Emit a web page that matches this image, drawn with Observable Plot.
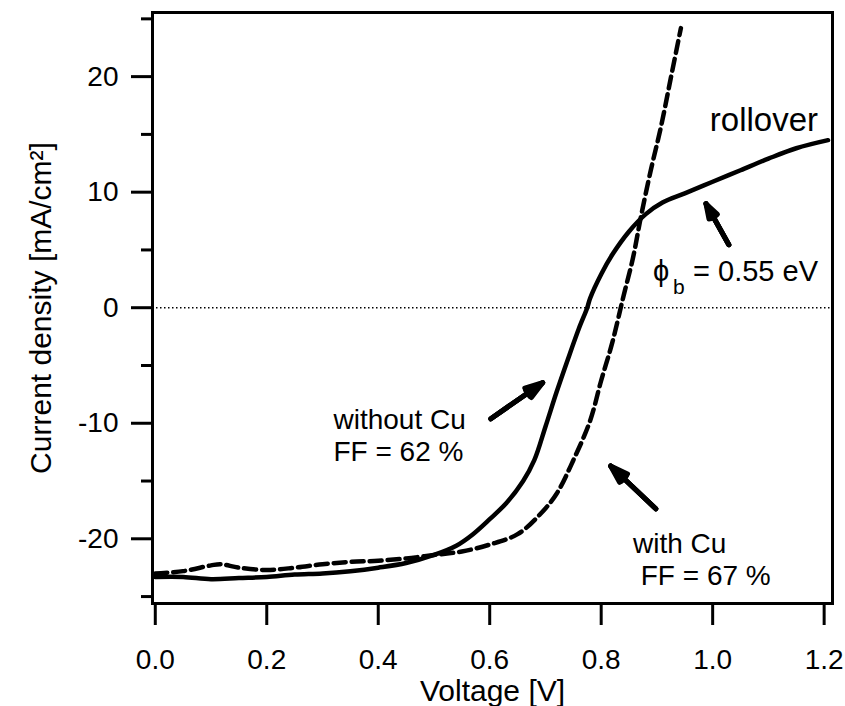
<!DOCTYPE html>
<html><head><meta charset="utf-8">
<script src="https://cdn.jsdelivr.net/npm/d3@7"></script>
<script src="https://cdn.jsdelivr.net/npm/@observablehq/plot@0.6"></script>
<style>body{margin:0;background:#fff} svg{display:block}</style>
</head><body><div id="chart"></div>
<script>
// without Cu (solid)
const withoutCuV = [0.00,0.05,0.10,0.15,0.20,0.25,0.30,0.35,0.40,0.45,0.50,0.54,0.57,0.60,0.63,0.66,0.68,0.70,0.72,0.74,0.76,0.775,0.78,0.80,0.82,0.85,0.88,0.91,0.95,1.00,1.05,1.10,1.15,1.207];
const withoutCuJ = [-23.3,-23.3,-23.5,-23.4,-23.3,-23.1,-23.0,-22.8,-22.5,-22.1,-21.4,-20.6,-19.6,-18.3,-16.9,-15.0,-13.2,-10.3,-7.3,-4.5,-1.8,0,0.8,2.9,4.6,6.6,8.1,9.1,9.9,10.9,11.9,12.9,13.8,14.5];
// with Cu (dashed)
const withCuV = [0.00,0.05,0.10,0.117,0.15,0.20,0.25,0.30,0.35,0.40,0.45,0.50,0.55,0.60,0.65,0.69,0.72,0.75,0.78,0.80,0.82,0.84,0.857,0.871,0.889,0.907,0.925,0.943];
const withCuJ = [-23.0,-22.8,-22.3,-22.2,-22.5,-22.7,-22.5,-22.2,-22.0,-21.9,-21.7,-21.4,-21.1,-20.5,-19.6,-17.9,-16.1,-13.2,-9.8,-6.3,-3.0,1.0,4.3,7.8,11.9,15.6,19.9,24.2];

const xTicks = [0.0,0.2,0.4,0.6,0.8,1.0,1.2];
const yMajorTicks = [-20,-10,0,10,20];
const yMinorTicks = [-25,-15,-5,5,15,25];

const xLabel = "Voltage [V]";
const yLabel = "Current density [mA/cm²]";

// annotation texts (data coordinates, baseline position)
const noteText   = ["rollover", "ϕ", "b", "= 0.55 eV", "without Cu", "FF = 62 %", "with Cu", "FF = 67 %"];
const noteX      = [1.189, 0.893, 0.9287, 1.189, 0.3197, 0.3197, 0.857, 0.871];
const noteY      = [15.32, 2.34, 1.21, 2.34, -10.48, -13.25, -21.2, -23.98];
const noteAnchor = ["end", "start", "start", "end", "start", "start", "start", "start"];
const noteSize   = [33, 29, 21, 29, 28, 28, 28, 28];

// arrows (tail -> tip, data coordinates)
const arrowX1 = [1.029, 0.602, 0.898];
const arrowY1 = [5.45, -9.61, -17.4];
const arrowX2 = [0.988, 0.695, 0.817];
const arrowY2 = [9.0, -6.49, -13.7];

const solid = withoutCuV.map((v, i) => ({v, j: withoutCuJ[i]}));
const dashed = withCuV.map((v, i) => ({v, j: withCuJ[i]}));
const notes = noteText.map((t, i) => ({t, x: noteX[i], y: noteY[i], a: noteAnchor[i], s: noteSize[i]}));
const arrows = arrowX1.map((x1, i) => ({x1, y1: arrowY1[i], x2: arrowX2[i], y2: arrowY2[i]}));

const font = "'Liberation Sans', Arial, Helvetica, sans-serif";
const arrowOpts = {x1: "x1", y1: "y1", x2: "x2", y2: "y2", stroke: "#000", strokeWidth: 5, headLength: 5.6};

const chart = Plot.plot({
  width: 845,
  height: 706,
  marginLeft: 152,
  marginRight: 13,
  marginTop: 12,
  marginBottom: 103,
  style: {fontFamily: font, color: "#000", background: "#fff"},
  x: {domain: [-0.005, 1.215]},
  y: {domain: [-25.6, 25.55]},
  marks: [
    Plot.ruleY([0], {stroke: "#000", strokeWidth: 1.6, strokeDasharray: "1.5,2.5"}),
    Plot.line(dashed, {x: "v", y: "j", stroke: "#000", strokeWidth: 4.5, strokeDasharray: "12,6", curve: "catmull-rom"}),
    Plot.line(solid, {x: "v", y: "j", stroke: "#000", strokeWidth: 4.5, curve: "catmull-rom"}),
    Plot.frame({stroke: "#000", strokeWidth: 3}),
    Plot.axisX({ticks: xTicks, tickSize: 20, tickPadding: 24, tickFormat: d3.format(".1f"), fontSize: 28, strokeWidth: 3, label: null, dy: 2}),
    Plot.axisY({ticks: yMajorTicks, tickSize: 21, tickPadding: 13, tickFormat: d => String(d), fontSize: 28, strokeWidth: 3, label: null}),
    Plot.axisY({ticks: yMinorTicks, tickSize: 11, text: null, strokeWidth: 3, label: null}),
    Plot.text([xLabel], {frameAnchor: "bottom", dy: 97, lineAnchor: "bottom", textAnchor: "middle", fontSize: 30, fill: "#000"}),
    Plot.text([yLabel], {frameAnchor: "left", rotate: -90, dx: -102, lineAnchor: "bottom", textAnchor: "middle", fontSize: 30, fill: "#000"}),
    Plot.text(notes.filter(d => d.a === "start"), {x: "x", y: "y", text: "t", textAnchor: "start", fontSize: "s", lineAnchor: "bottom", fill: "#000"}),
    Plot.text(notes.filter(d => d.a === "end"), {x: "x", y: "y", text: "t", textAnchor: "end", fontSize: "s", lineAnchor: "bottom", fill: "#000"}),
    Plot.arrow(arrows, {...arrowOpts, headAngle: 36}),
    Plot.arrow(arrows, {...arrowOpts, headAngle: 22}),
    Plot.arrow(arrows, {...arrowOpts, headAngle: 8})
  ]
});
document.getElementById("chart").appendChild(chart);
</script>
</body></html>
